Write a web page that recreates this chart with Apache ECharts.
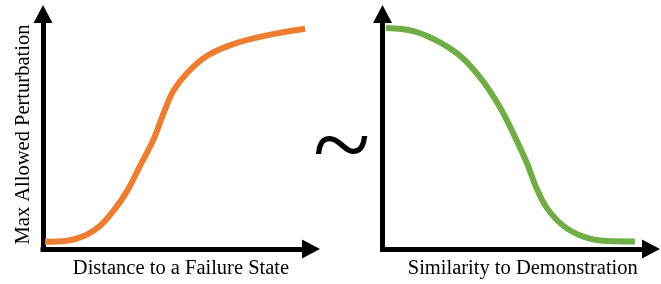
<!DOCTYPE html>
<html>
<head>
  <meta charset="utf-8">
  <title>perturbation</title>
  <script src="https://cdn.jsdelivr.net/npm/echarts@6/dist/echarts.min.js"></script>
  <style>
    body { margin: 0; background: #fff; }
  </style>
</head>
<body>
  <div id="main" style="width:661px;height:284px;"></div>
  <script type="text/javascript">
    // both axes run 0..100
    var distance = [0.75, 8.8, 16.3, 21.3, 26.2, 31.2, 36.2, 41.2, 44.9, 48.6, 53.6, 61.1, 71.0, 83.5, 97.8];
    var perturbLeft = [3.1, 3.5, 6.1, 9.9, 16.1, 24.3, 35.4, 46.5, 57.5, 67.2, 74.7, 82.1, 87.2, 90.9, 93.7];

    var similarity = [1.3, 11.5, 21.4, 30.1, 37.5, 43.8, 48.7, 53.7, 57.4, 61.2, 67.3, 74.8, 83.5, 94.0];
    var perturbRight = [94.0, 92.7, 87.9, 81.0, 71.3, 60.2, 49.2, 36.8, 25.8, 17.5, 9.9, 5.3, 3.4, 3.2];

    var yName = 'Max Allowed Perturbation';
    var xNames = ['Distance to a Failure State', 'Similarity to Demonstration'];

    function pairs(xs, ys) {
      return xs.map(function (x, i) { return [x, ys[i]]; });
    }

    var font = 'Liberation Serif, Times New Roman, serif';
    var axisLine = {
      show: true,
      symbol: ['none', 'triangle'],
      symbolSize: [19, 18],
      lineStyle: { color: '#000', width: 5, cap: 'square' }
    };

    function xAxis(idx, name, pad) {
      return {
        type: 'value', gridIndex: idx, min: 0, max: 100,
        name: name, nameLocation: 'middle', nameGap: 9,
        nameTextStyle: { fontFamily: font, fontSize: 20.5, color: '#000', padding: [0, 0, 0, pad] },
        axisLine: axisLine, axisTick: { show: false }, axisLabel: { show: false }, splitLine: { show: false }
      };
    }
    function yAxis(idx, name) {
      return {
        type: 'value', gridIndex: idx, min: 0, max: 100,
        name: name, nameLocation: 'middle', nameGap: 9, nameRotate: 90,
        nameTextStyle: { fontFamily: font, fontSize: 20.5, color: '#000', padding: [0, 6, 0, 0] },
        axisLine: axisLine, axisTick: { show: false }, axisLabel: { show: false }, splitLine: { show: false }
      };
    }

    var myChart = echarts.init(document.getElementById('main'));
    var option = {
      animation: false,
      grid: [
        { left: 43, top: 14, right: 350, bottom: 28.5 },
        { left: 382.5, top: 14, right: 10, bottom: 28.5 }
      ],
      xAxis: [xAxis(0, xNames[0], 8), xAxis(1, xNames[1], 12)],
      yAxis: [yAxis(0, yName), yAxis(1, '')],
      graphic: [{
        type: 'text', left: 313, top: 99,
        style: { text: '~', fontFamily: font, fontSize: 106, fill: '#000' }
      }],
      series: [
        {
          type: 'line', xAxisIndex: 0, yAxisIndex: 0, smooth: 0.35, symbol: 'none',
          lineStyle: { color: '#ED7D31', width: 6 },
          data: pairs(distance, perturbLeft)
        },
        {
          type: 'line', xAxisIndex: 1, yAxisIndex: 1, smooth: 0.35, symbol: 'none',
          lineStyle: { color: '#70AD47', width: 6 },
          data: pairs(similarity, perturbRight)
        }
      ]
    };
    myChart.setOption(option);
  </script>
</body>
</html>
